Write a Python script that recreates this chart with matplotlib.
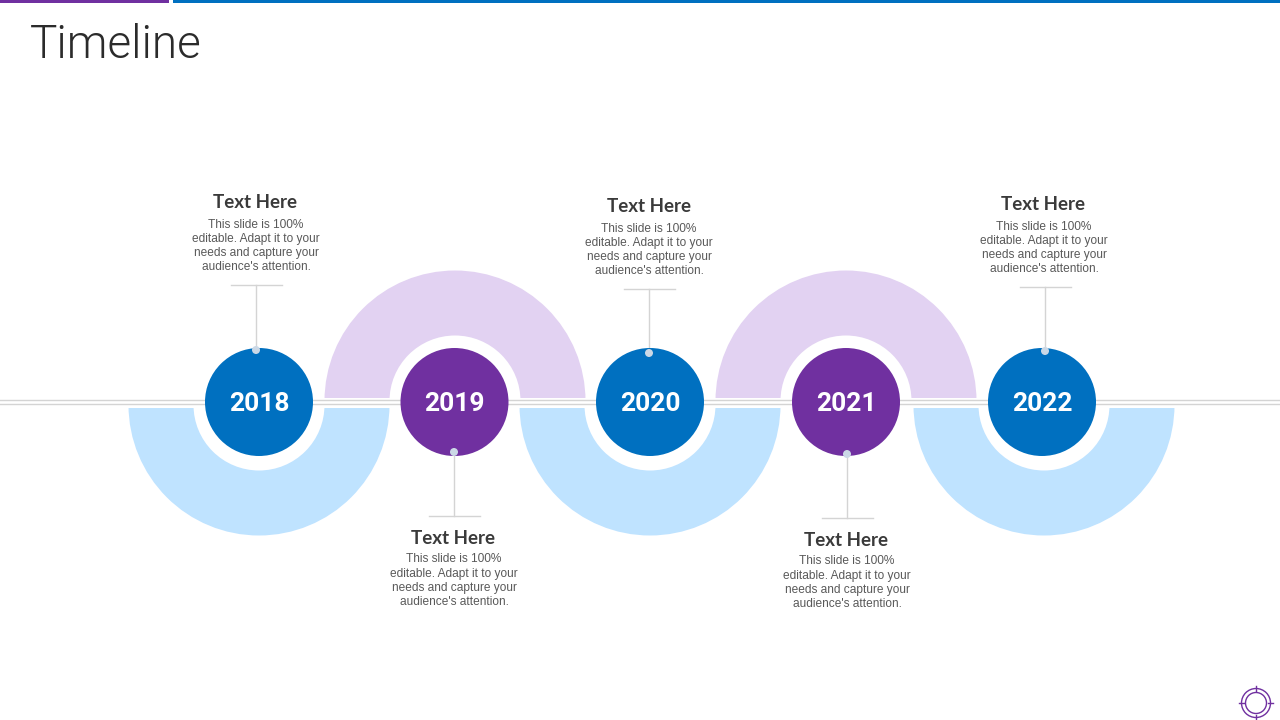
import matplotlib
matplotlib.use("Agg")
import matplotlib.pyplot as plt
from matplotlib.patches import Circle, Rectangle, Wedge

# --- Slide content ---
years = ["2018", "2019", "2020", "2021", "2022"]
heading = "Text Here"
body_lines = ["This slide is 100%", "editable. Adapt it to your",
              "needs and capture your", "audience's attention."]

# --- Layout (pixels) ---
circle_x = [259, 454.5, 650, 846, 1042]
circle_y = 402
arc_x = [259, 455, 650, 846, 1044]
dot_x = [256, 454, 649, 847, 1045]
dot_y = [350, 452, 353, 454, 351]
stem_end = [285, 516, 289, 518, 287]
heading_x = [255, 453, 649, 846, 1043]
heading_y = [203, 539, 207, 541, 205]
body_x = [256, 454, 649, 847, 1044]
body_y = [224.5, 559.5, 228.5, 561.5, 226.5]

blue = "#0070C0"
purple = "#7030A0"
light_blue = "#BFE3FF"
light_purple = "#E2D2F2"
grey = "#D4D4D4"

fig = plt.figure(figsize=(12.8, 7.2), dpi=100)
ax = fig.add_axes([0, 0, 1, 1])
ax.set_xlim(0, 1280)
ax.set_ylim(720, 0)
ax.axis("off")

# top bars
ax.add_patch(Rectangle((0, 0), 169, 3, color=purple, lw=0))
ax.add_patch(Rectangle((173, 0), 1107, 3, color=blue, lw=0))

ax.text(30, 45, "Timeline", fontsize=33, family="Roboto", fontweight=300,
        color="#2B2B2B", ha="left", va="center")

# half rings (y axis is inverted, so 0-180 opens downwards on screen)
for i, x in enumerate(arc_x):
    if i % 2 == 0:
        ax.add_patch(Wedge((x, 405), 130.5, 0, 180, width=65, color=light_blue, lw=0, zorder=1))
        ax.add_patch(Rectangle((x - 132, 403), 264, 4.5, color="white", lw=0, zorder=1.5))
    else:
        ax.add_patch(Wedge((x, 401), 130.5, 180, 360, width=65, color=light_purple, lw=0, zorder=1))
        ax.add_patch(Rectangle((x - 132, 398), 264, 4, color="white", lw=0, zorder=1.5))

# double base line
ax.plot([0, 1280], [400, 400], color=grey, lw=1, zorder=2)
ax.plot([0, 1280], [404, 404], color=grey, lw=1, zorder=2)

for i, year in enumerate(years):
    color = blue if i % 2 == 0 else purple
    ax.add_patch(Circle((circle_x[i], circle_y), 54, color=color, lw=0, zorder=3))
    ax.text(circle_x[i], circle_y + 2, year, fontsize=19, family="Roboto", fontweight="bold",
            color="white", ha="center", va="center", zorder=4)

    # callout stem, cap and dot
    ax.plot([dot_x[i], dot_x[i]], [dot_y[i], stem_end[i]], color=grey, lw=1, zorder=2)
    ax.plot([dot_x[i] - 25.5, dot_x[i] + 25.5], [stem_end[i], stem_end[i]], color=grey, lw=1, zorder=2)
    ax.add_patch(Circle((dot_x[i], dot_y[i]), 4, color="#CBD8E6", lw=0, zorder=5))

    ax.text(heading_x[i], heading_y[i], heading, fontsize=13.5, family="Lato", fontweight="bold",
            color="#3A3A3A", ha="center", va="center")
    for j, line in enumerate(body_lines):
        ax.text(body_x[i], body_y[i] + j * 14.3, line, fontsize=8.55, family="Liberation Sans",
                color="#595959", ha="center", va="center")

# corner icon
icon_x, icon_y = 1256, 703
ax.add_patch(Circle((icon_x, icon_y), 14.5, fill=False, ec=purple, lw=1))
ax.add_patch(Circle((icon_x, icon_y), 10.5, fill=False, ec=purple, lw=1))
ax.plot([icon_x - 17, icon_x - 12], [icon_y, icon_y], color=purple, lw=1)
ax.plot([icon_x + 12, icon_x + 17], [icon_y, icon_y], color=purple, lw=1)
ax.plot([icon_x, icon_x], [icon_y - 17, icon_y - 12], color=purple, lw=1)
ax.plot([icon_x, icon_x], [icon_y + 12, icon_y + 17], color=purple, lw=1)

fig.savefig("out.png", dpi=100)
